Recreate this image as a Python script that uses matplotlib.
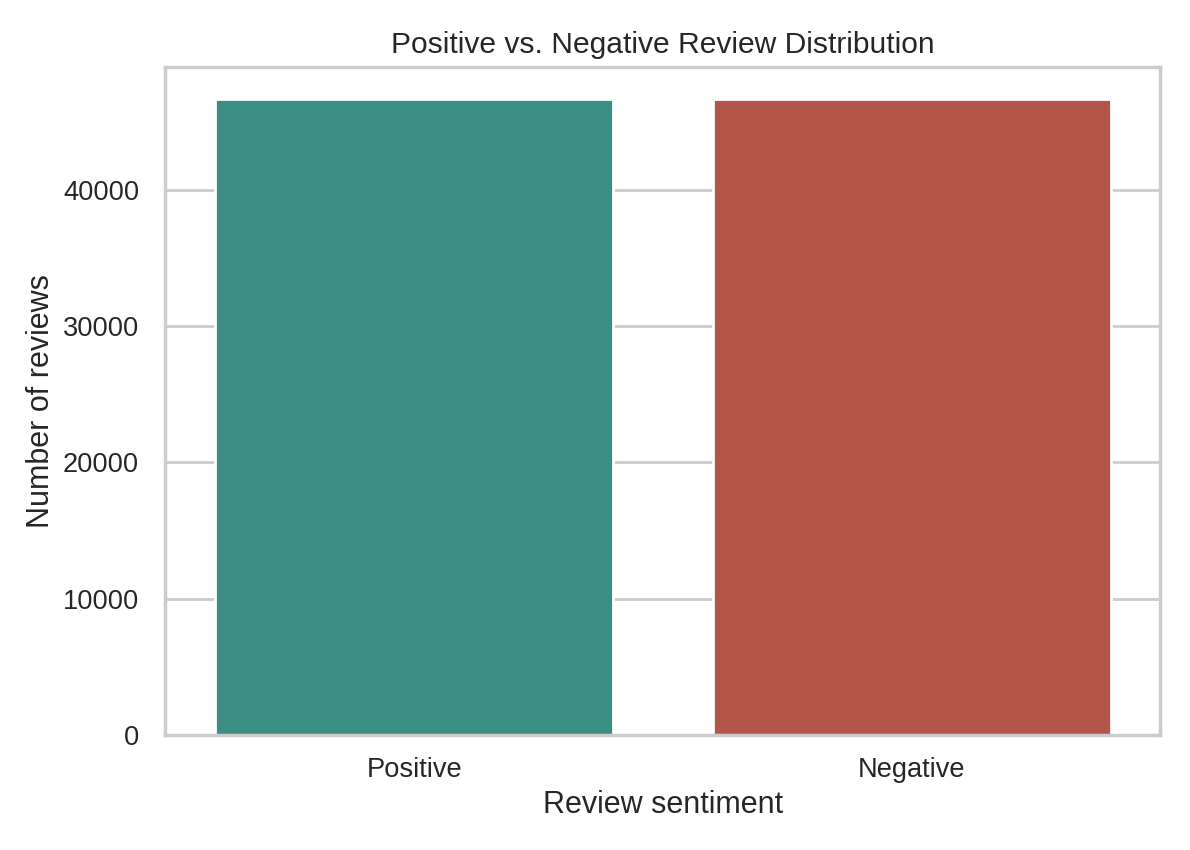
import matplotlib
matplotlib.use("Agg")
import matplotlib.pyplot as plt
import seaborn as sns

categories = ["Positive", "Negative"]
counts = [46650, 46650]
colors = ["#3a8e84", "#b35549"]

sns.set_theme(style="whitegrid")
plt.rcParams['font.family'] = ['Liberation Sans', 'DejaVu Sans']

fig, ax = plt.subplots(figsize=(5.95, 4.25), dpi=200)
fig.subplots_adjust(left=0.139, right=0.975, top=0.921, bottom=0.135)

x = list(range(len(categories)))
ax.bar(x, counts, width=0.8, color=colors, zorder=2)
ax.set_xticks(x)
ax.set_xticklabels(categories)
ax.set_xlim(-0.5, len(categories) - 0.5)
ax.grid(False, axis="x")
ax.set_yticks([0, 10000, 20000, 30000, 40000])
ax.tick_params(axis="both", labelsize=9.8)
ax.tick_params(axis="x", pad=1.8)
ax.tick_params(axis="y", pad=3.5)
ax.set_title("Positive vs. Negative Review Distribution", fontsize=10.8, pad=5)
ax.set_xlabel("Review sentiment", fontsize=11, labelpad=2.5)
ax.set_ylabel("Number of reviews", fontsize=11, labelpad=2.5)

fig.savefig("out.png", dpi=200)
